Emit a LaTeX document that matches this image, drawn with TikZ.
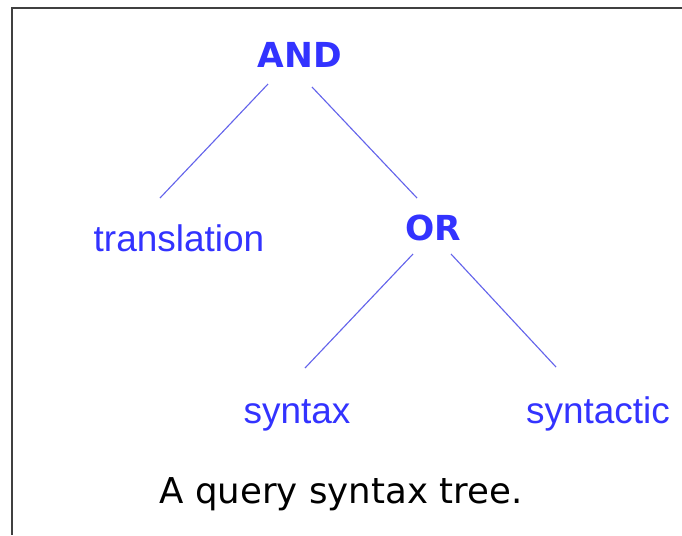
\documentclass[tikz,border=0pt]{standalone}
\usepackage{fontspec}
\setmainfont{Liberation Sans}
\newfontfamily\opfont{DejaVu Sans}
\usepackage{tikz}
\usetikzlibrary{calc}
\definecolor{qblue}{RGB}{51,51,255}
\definecolor{qline}{RGB}{100,100,235}

\begin{document}
\begin{tikzpicture}[x=0.025cm,y=-0.025cm]
\tikzstyle{oper}=[text=qblue,inner sep=0pt,anchor=base,font=\opfont\bfseries\fontsize{24.5}{29}\selectfont]
\tikzstyle{leaf}=[text=qblue,inner sep=0pt,anchor=base,font=\fontsize{26.3}{31}\selectfont]
\tikzstyle{capt}=[inner sep=0pt,anchor=base,font=\opfont\fontsize{25.3}{30}\selectfont]
\tikzstyle{branch}=[draw=qline,line width=0.8pt]
\useasboundingbox (0,0) rectangle (682,535);
\draw [gray!50!black,line width=1.4pt] (682,8) -- (12,8) -- (12,535);
\node [oper] (and) at (300,67) {AND};
\node [leaf] (trans) at (179,251) {translation};
\node [oper] (or) at (433,240) {OR};
\node [leaf] (syn) at (297,423) {syntax};
\node [leaf] (synt) at (598,423) {syntactic};
\node [capt] (cap) at (341,503) {A query syntax tree.};
\draw [branch] ($(and.base)+(-32,17)$) -- ($(trans.base)+(-19,-53)$);
\draw [branch] ($(and.base)+(12,20)$) -- ($(or.base)+(-16,-42)$);
\draw [branch] ($(or.base)+(-20,14)$) -- ($(syn.base)+(8,-55)$);
\draw [branch] ($(or.base)+(18,14)$) -- ($(synt.base)+(-42,-56)$);
\end{tikzpicture}
\end{document}
